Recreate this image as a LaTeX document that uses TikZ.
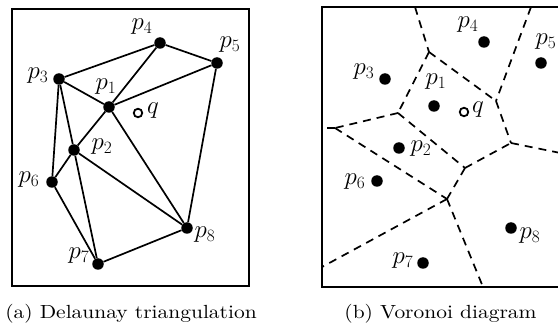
\documentclass[tikz,border=0pt]{standalone}
\usepackage{fontspec}
\usepackage{tikz}
\newfontfamily\capfont{lmroman10-regular.otf}[FakeStretch=1.13]
\tikzset{
  site/.style={circle, fill=black, inner sep=0pt, minimum size=11.5pt},
  qsite/.style={circle, draw=black, line width=1.8pt, fill=white,
    inner sep=0pt, minimum size=8.5pt},
  plbl/.style={inner sep=0pt, font=\fontsize{24}{26}\selectfont},
  dedge/.style={line width=1.7pt, line join=round},
  vedge/.style={line width=1.7pt, dash pattern=on 8pt off 6pt},
  frame/.style={line width=2pt},
  subcap/.style={inner sep=0pt, font=\capfont\fontsize{19}{22}\selectfont}
}

\begin{document}
\begin{tikzpicture}[x=1pt, y=-1pt]
\useasboundingbox (0,0) rectangle (558,326);
\fill[white] (0,0) rectangle (558,326);

% (a) Delaunay triangulation
\draw[frame] (12,9) rectangle (249,286);

\node[site] (a1) at (109,107) {};
\node[site] (a2) at (74,150) {};
\node[site] (a3) at (59,79) {};
\node[site] (a4) at (160,43) {};
\node[site] (a5) at (217,63) {};
\node[site] (a6) at (52,182) {};
\node[site] (a7) at (98,264) {};
\node[site] (a8) at (187,228) {};

\draw[dedge] (a3) -- (a4);
\draw[dedge] (a4) -- (a5);
\draw[dedge] (a3) -- (a1);
\draw[dedge] (a1) -- (a4);
\draw[dedge] (a1) -- (a5);
\draw[dedge] (a3) -- (a6);
\draw[dedge] (a3) -- (a2);
\draw[dedge] (a1) -- (a2);
\draw[dedge] (a1) -- (a8);
\draw[dedge] (a5) -- (a8);
\draw[dedge] (a2) -- (a8);
\draw[dedge] (a2) -- (a6);
\draw[dedge] (a2) -- (a7);
\draw[dedge] (a6) -- (a7);
\draw[dedge] (a7) -- (a8);

\node[qsite] (aq) at (138,113) {};

\node[plbl] (la1) at (106,87) {$p_1$};
\node[plbl] (la2) at (102,147) {$p_2$};
\node[plbl] (la3) at (38,76) {$p_3$};
\node[plbl] (la4) at (142,27) {$p_4$};
\node[plbl] (la5) at (230,45) {$p_5$};
\node[plbl] (la6) at (29,180) {$p_6$};
\node[plbl] (la7) at (79,256) {$p_7$};
\node[plbl] (la8) at (205,235) {$p_8$};
\node[plbl] (laq) at (153,111) {$q$};

\node[subcap] (capa) at (131,314) {(a) Delaunay triangulation};

% (b) Voronoi diagram
\begin{scope}
\clip (0,0) rectangle (558,326);
\draw[frame] (322,7) rectangle (600,287);

\node[site] (b1) at (434,106) {};
\node[site] (b2) at (399,148) {};
\node[site] (b3) at (385,79) {};
\node[site] (b4) at (484,42) {};
\node[site] (b5) at (541,63) {};
\node[site] (b6) at (377,181) {};
\node[site] (b7) at (423,263) {};
\node[site] (b8) at (511,228) {};
\node[qsite] (bq) at (464,112) {};

% Voronoi vertices
\coordinate (v1) at (429,52);
\coordinate (v2) at (398,113);
\coordinate (v3) at (335,128);
\coordinate (v4) at (496,101);
\coordinate (v5) at (511,143);
\coordinate (v6) at (465,168);
\coordinate (v7) at (447,199);
% rays to the frame
\coordinate (t1) at (415,7);
\coordinate (t2) at (531,7);
\coordinate (l3) at (322,128);
\coordinate (l7) at (322,267);
\coordinate (b7e) at (483,287);
\coordinate (r5) at (600,161);

\draw[vedge] (t1) -- (v1);
\draw[vedge] (v1) -- (v4);
\draw[vedge] (v1) -- (v2);
\draw[vedge] (t2) -- (v4);
\draw[vedge] (v4) -- (v5);
\draw[vedge] (v5) -- (r5);
\draw[vedge] (v2) -- (v3);
\draw[vedge] (v3) -- (l3);
\draw[vedge] (v3) -- (v7);
\draw[vedge] (v2) -- (v6);
\draw[vedge] (v6) -- (v5);
\draw[vedge] (v6) -- (v7);
\draw[vedge] (v7) -- (b7e);
\draw[vedge] (v7) -- (l7);
\end{scope}

\node[plbl] (lb1) at (436,82) {$p_1$};
\node[plbl] (lb2) at (421,149) {$p_2$};
\node[plbl] (lb3) at (364,72) {$p_3$};
\node[plbl] (lb4) at (468,25) {$p_4$};
\node[plbl] (lb5) at (546,42) {$p_5$};
\node[plbl] (lb6) at (355,182) {$p_6$};
\node[plbl] (lb7) at (403,261) {$p_7$};
\node[plbl] (lb8) at (530,236) {$p_8$};
\node[plbl] (lbq) at (478,110) {$q$};

\node[subcap] (capb) at (440.5,314) {(b) Voronoi diagram};
\end{tikzpicture}
\end{document}
